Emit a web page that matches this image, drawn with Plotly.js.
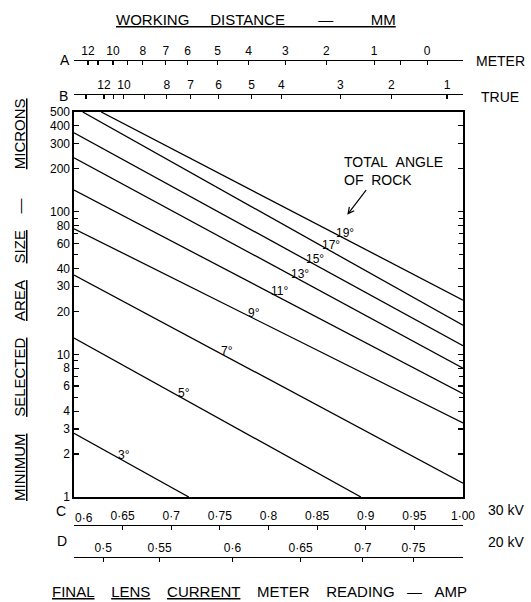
<!DOCTYPE html>
<html><head><meta charset="utf-8">
<script src="https://cdn.plot.ly/plotly-3.0.1.min.js"></script>
<style>html,body{margin:0;padding:0;background:#fff}#chart{width:531px;height:602px}</style>
</head><body><div id="chart"></div>
<script>
// Total angle of rock lines: end points (final lens current at 30 kV in amp, minimum selected area size in microns)
const rockAngles   = [3, 5, 7, 9, 11, 13, 15, 17, 19];
const startCurrent = [0.600, 0.600, 0.600, 0.600, 0.600, 0.600, 0.600, 0.609, 0.628];
const startSize    = [2.8, 13, 36, 76, 142, 239, 357, 500, 500];
const endCurrent   = [0.718, 0.895, 1.0, 1.0, 1.0, 1.0, 1.0, 1.0, 1.0];
const endSize      = [1, 1, 1.25, 3.3, 5.3, 8.0, 11.5, 16, 24];
const labelCurrent = [0.651, 0.713, 0.757, 0.785, 0.811, 0.832, 0.848, 0.864, 0.879];

// Size axis
const sizeTicks = [1, 2, 3, 4, 6, 8, 10, 20, 30, 40, 60, 80, 100, 200, 300, 400, 500];
const sizeMinor = [5, 7, 9, 50, 70, 90];

// Scale C: lens current at 30 kV
const cTicks  = [0.60, 0.65, 0.70, 0.75, 0.80, 0.85, 0.90, 0.95, 1.00];
const cLabels = ['0·6', '0·65', '0·7', '0·75', '0·8', '0·85', '0·9', '0·95', '1·00'];
// Scale D: lens current at 20 kV, placed at the matching 30 kV current
const dLabels = ['0·5', '0·55', '0·6', '0·65', '0·7', '0·75'];
const dAt     = [0.630, 0.688, 0.763, 0.833, 0.897, 0.949];
// Scale A: working distance, meter
const aLabels  = ['12', '10', '8', '7', '6', '5', '4', '3', '2', '1', '0'];
const aAt      = [0.6144, 0.640, 0.6708, 0.6944, 0.7169, 0.7477, 0.7795, 0.8174, 0.8595, 0.9087, 0.9631];
const aMinorAt = [0.6246, 0.6554, 0.9354];
// Scale B: working distance, true
const bLabels  = ['12', '10', '8', '7', '6', '5', '4', '3', '2', '1'];
const bAt      = [0.6308, 0.6513, 0.6954, 0.7200, 0.7487, 0.7826, 0.8133, 0.8738, 0.9262, 0.9836];
const bMinorAt = [0.6123, 0.6410, 0.6728];

const W = 531, H = 602;
const px = v => v / W, py = v => 1 - v / H;
const FONT = 'Liberation Sans, Arial, sans-serif';
const X0 = 74, X1 = 463, Y0 = 112, Y1 = 497;
const NB = '\u00a0';
const sp = n => NB.repeat(n);

const traces = rockAngles.map((a, i) => ({
  x: [startCurrent[i], endCurrent[i]],
  y: [startSize[i], endSize[i]],
  mode: 'lines', line: {color: '#000', width: 1.3},
  hoverinfo: 'skip', showlegend: false
}));
['x2', 'x3', 'x4', 'x5'].forEach(ax => traces.push({
  x: [0.6, 1.0], y: [1, 1], xaxis: ax, yaxis: 'y', mode: 'markers',
  marker: {opacity: 0}, hoverinfo: 'skip', showlegend: false
}));

function sizeAt(i, c) {
  const l0 = Math.log10(startSize[i]), l1 = Math.log10(endSize[i]);
  const t = (c - startCurrent[i]) / (endCurrent[i] - startCurrent[i]);
  return Math.pow(10, l0 + t * (l1 - l0));
}

const scaleAxis = (pos, vals, text) => ({
  overlaying: 'x', anchor: 'free', position: pos, side: 'top',
  range: [0.6, 1.0], autorange: false,
  showline: true, linecolor: '#000', linewidth: 1.2,
  ticks: 'inside', ticklen: 4, tickwidth: 1.2, tickcolor: '#000',
  tickvals: vals, ticktext: text, tickangle: 0,
  showgrid: false, zeroline: false,
  tickfont: {family: FONT, size: 12, color: '#000'}
});

const annotations = [];
rockAngles.forEach((a, i) => annotations.push({
  x: labelCurrent[i], y: Math.log10(sizeAt(i, labelCurrent[i])), xref: 'x', yref: 'y',
  text: a + '°', showarrow: false, xanchor: 'center', yanchor: 'bottom', yshift: -3,
  font: {family: FONT, size: 12, color: '#000'}
}));
const paperText = (x, y, text, size, opts) => Object.assign({
  x: px(x), y: py(y), xref: 'paper', yref: 'paper', text: text, showarrow: false,
  font: {family: FONT, size: size, color: '#000'}
}, opts || {});
annotations.push(paperText(342, 171, 'TOTAL' + sp(2) + 'ANGLE<br>OF' + sp(2) + 'ROCK', 14, {xanchor: 'left', yanchor: 'middle', align: 'left'}));
annotations.push({
  x: labelCurrent[8] + 0.002, y: Math.log10(sizeAt(8, labelCurrent[8])) + 0.17, xref: 'x', yref: 'y',
  text: '', showarrow: true, ax: 20, ay: -26, arrowhead: 5, arrowsize: 1, arrowwidth: 1.2, arrowcolor: '#000'
});
annotations.push(paperText(256, 20, '<u>WORKING' + sp(5) + 'DISTANCE' + sp(8) + '—' + sp(9) + 'MM</u>', 15, {xanchor: 'center', yanchor: 'middle'}));
annotations.push(paperText(259, 591, '<u>FINAL</u>' + sp(4) + '<u>LENS</u>' + sp(4) + '<u>CURRENT</u>' + sp(4) + 'METER' + sp(4) + 'READING' + sp(3) + '—' + sp(3) + 'AMP', 15, {xanchor: 'center', yanchor: 'middle'}));
annotations.push(paperText(20, 300, '<u>MINIMUM</u>' + sp(4) + '<u>SELECTED</u>' + sp(4) + '<u>AREA</u>' + sp(4) + '<u>SIZE</u>' + sp(4) + '—' + sp(7) + '<u>MICRONS</u>', 15, {xanchor: 'center', yanchor: 'middle', textangle: -90}));
annotations.push(paperText(58, 50, 'A', 14));
annotations.push(paperText(57, 86, 'B', 14));
annotations.push(paperText(55, 520, 'C', 14, {borderpad: 0}));
annotations.push(paperText(55, 551, 'D', 14));
annotations.push(paperText(474, 51, 'METER', 14, {xanchor: 'left'}));
annotations.push(paperText(479, 87, 'TRUE', 14, {xanchor: 'left'}));
annotations.push(paperText(486, 520, '30' + NB + 'kV', 14, {xanchor: 'left'}));
annotations.push(paperText(486, 552, '20' + NB + 'kV', 14, {xanchor: 'left'}));
// first label of scale C sits to the right of its tick
annotations.push({
  x: cTicks[0], y: py(518), xref: 'x4', yref: 'paper', text: cLabels[0], showarrow: false,
  xanchor: 'left', yanchor: 'middle', borderpad: 0, font: {family: FONT, size: 12, color: '#000'}
});
const cText = cLabels.map((t, i) => i === 0 ? '' : t);

const layout = {
  width: W, height: H, margin: {l: 0, r: 0, t: 0, b: 0},
  paper_bgcolor: '#fff', plot_bgcolor: '#fff', showlegend: false,
  xaxis: {
    domain: [px(X0), px(X1)], range: [0.6, 1.0], autorange: false,
    showline: true, mirror: true, linecolor: '#000', linewidth: 1.6,
    ticks: '', showticklabels: false, showgrid: false, zeroline: false
  },
  yaxis: {
    domain: [py(Y1), py(Y0)], type: 'log', range: [0, Math.log10(500)], autorange: false,
    showline: true, mirror: 'ticks', linecolor: '#000', linewidth: 1.6,
    ticks: 'inside', ticklen: 5, tickwidth: 1.2, tickcolor: '#000',
    tickvals: sizeTicks, ticktext: sizeTicks.map(String),
    minor: {tickvals: sizeMinor, ticks: 'inside', ticklen: 4, tickwidth: 1.2, tickcolor: '#000', showgrid: false},
    showgrid: false, zeroline: false,
    tickfont: {family: FONT, size: 12, color: '#000'}
  },
  xaxis2: scaleAxis(py(60), aAt.concat(aMinorAt), aLabels.concat(aMinorAt.map(() => ''))),
  xaxis3: scaleAxis(py(94), bAt.concat(bMinorAt), bLabels.concat(bMinorAt.map(() => ''))),
  xaxis4: scaleAxis(py(525), cTicks, cText),
  xaxis5: scaleAxis(py(557), dAt, dLabels),
  annotations: annotations
};

Plotly.newPlot('chart', traces, layout, {staticPlot: true, displayModeBar: false});
</script></body></html>
